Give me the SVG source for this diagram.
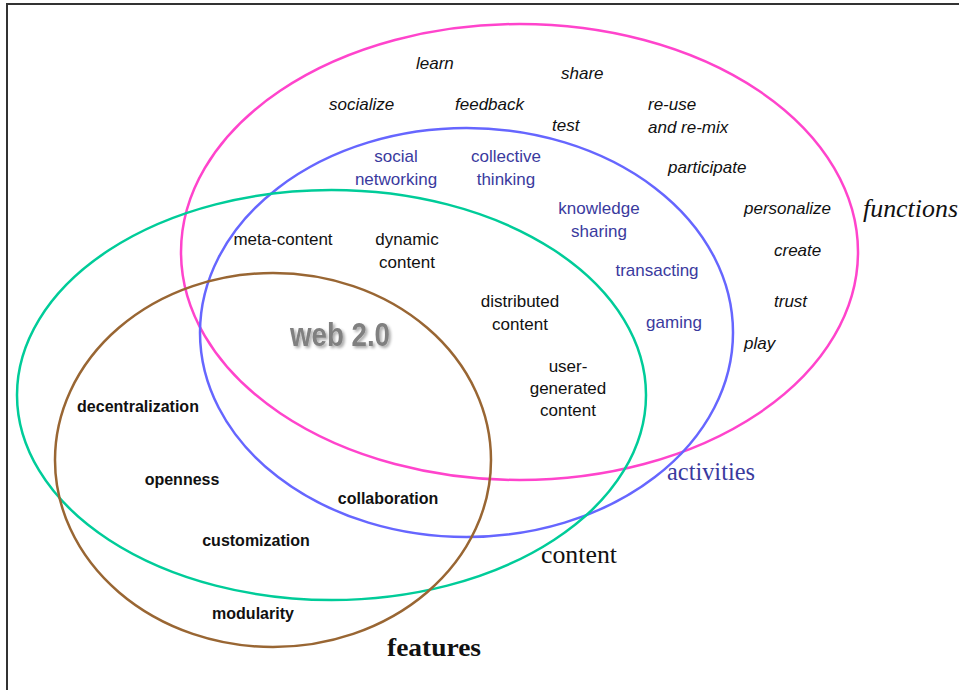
<svg xmlns="http://www.w3.org/2000/svg" width="959" height="690" viewBox="0 0 959 690">
<style>
.f{font-family:"Liberation Sans",Arial,sans-serif;font-size:17px;font-style:italic;fill:#111}
.a{font-family:"Liberation Sans",Arial,sans-serif;font-size:17px;fill:#3a3a9e;text-anchor:middle}
.c{font-family:"Liberation Sans",Arial,sans-serif;font-size:17px;fill:#111;text-anchor:middle}
.b{font-family:"Liberation Sans",Arial,sans-serif;font-size:16px;font-weight:bold;fill:#111;text-anchor:middle}
.lab{font-family:"Liberation Serif","Times New Roman",serif;font-size:25px}
.ring{fill:none;stroke-width:2.5}
</style>
<defs>
<filter id="sh" x="-20%" y="-30%" width="140%" height="160%">
<feGaussianBlur in="SourceAlpha" stdDeviation="1.5"/>
<feOffset dx="1.5" dy="1.5" result="b"/>
<feComponentTransfer><feFuncA type="linear" slope="0.35"/></feComponentTransfer>
<feMerge><feMergeNode/><feMergeNode in="SourceGraphic"/></feMerge>
</filter>
</defs>
<rect width="959" height="690" fill="#fff"/>
<path d="M7 690 V4 H959" fill="none" stroke="#333" stroke-width="2"/>
<g id="connectors"></g>
<g id="functions">
<ellipse class="ring" cx="519.5" cy="252" rx="338.5" ry="228" stroke="#ff44cc"/>
<text class="lab" x="863" y="217" font-style="italic" fill="#111" textLength="95" lengthAdjust="spacingAndGlyphs">functions</text>
<text class="f" x="416" y="69">learn</text>
<text class="f" x="561" y="79">share</text>
<text class="f" x="329" y="110">socialize</text>
<text class="f" x="455" y="110">feedback</text>
<text class="f" x="552" y="131">test</text>
<text class="f" x="648" y="110">re-use</text>
<text class="f" x="648" y="133">and re-mix</text>
<text class="f" x="668" y="173">participate</text>
<text class="f" x="744" y="214">personalize</text>
<text class="f" x="774" y="256">create</text>
<text class="f" x="774" y="307">trust</text>
<text class="f" x="744" y="349">play</text>
</g>
<g id="activities">
<ellipse class="ring" cx="466.5" cy="332.5" rx="266.5" ry="204.5" stroke="#6666ff"/>
<text class="lab" x="667" y="480" fill="#3a3a9e" textLength="88" lengthAdjust="spacingAndGlyphs">activities</text>
<text class="a" x="396" y="162">social</text>
<text class="a" x="396" y="185">networking</text>
<text class="a" x="506" y="162">collective</text>
<text class="a" x="506" y="185">thinking</text>
<text class="a" x="599" y="214">knowledge</text>
<text class="a" x="599" y="237">sharing</text>
<text class="a" x="657" y="276">transacting</text>
<text class="a" x="674" y="328">gaming</text>
</g>
<g id="content">
<ellipse class="ring" cx="331.5" cy="395" rx="314.5" ry="205" stroke="#00cc99"/>
<text class="lab" x="541" y="563" fill="#111" textLength="76" lengthAdjust="spacingAndGlyphs">content</text>
<text class="c" x="283" y="245">meta-content</text>
<text class="c" x="407" y="245">dynamic</text>
<text class="c" x="407" y="268">content</text>
<text class="c" x="520" y="307">distributed</text>
<text class="c" x="520" y="330">content</text>
<text class="c" x="568" y="372">user-</text>
<text class="c" x="568" y="394">generated</text>
<text class="c" x="568" y="416">content</text>
</g>
<g id="features">
<ellipse class="ring" cx="273" cy="460" rx="218" ry="187" stroke="#996633"/>
<text class="lab" x="387" y="656" font-weight="bold" fill="#111" textLength="94" lengthAdjust="spacingAndGlyphs">features</text>
<text class="b" x="138" y="412">decentralization</text>
<text class="b" x="182" y="485">openness</text>
<text class="b" x="388" y="504">collaboration</text>
<text class="b" x="256" y="546">customization</text>
<text class="b" x="253" y="619">modularity</text>
</g>
<g id="web20">
<text x="290" y="346" font-family="'Liberation Sans Narrow','Liberation Sans',Arial,sans-serif" font-size="34" font-weight="bold" fill="#808080" textLength="100" lengthAdjust="spacingAndGlyphs" filter="url(#sh)">web 2.0</text>
</g>
</svg>
